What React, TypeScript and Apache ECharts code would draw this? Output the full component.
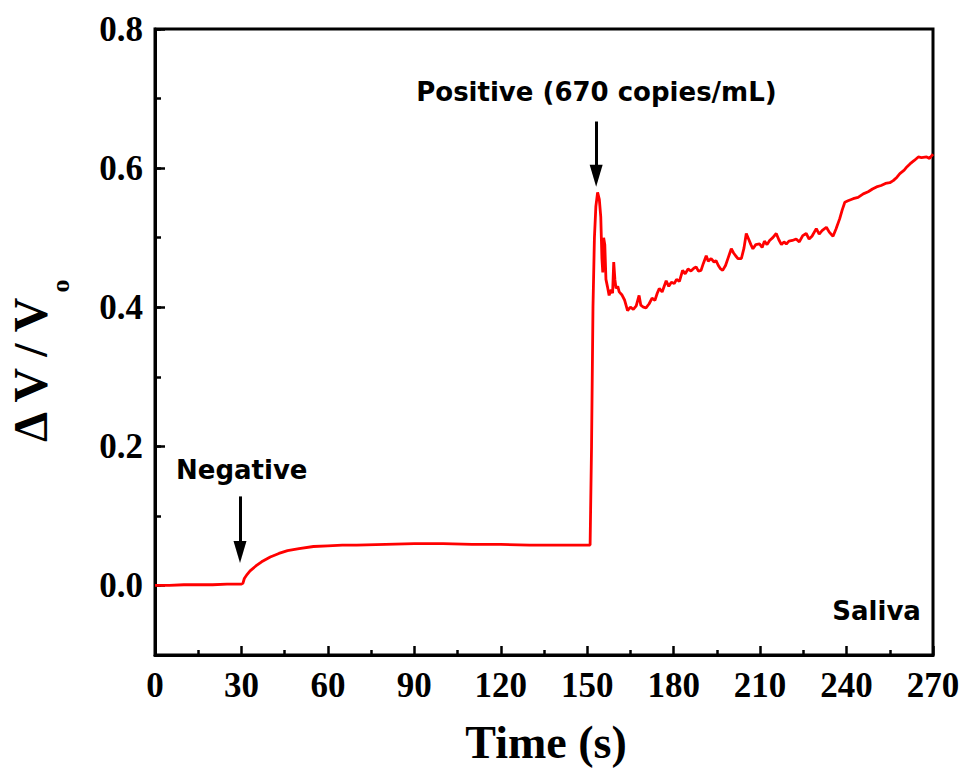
import React, { useEffect, useRef } from "react";
import * as echarts from "echarts";

const timeS = [
  0, 5, 10, 15, 20, 25, 30, 30.5,
  31, 32, 33, 35, 37, 40, 43, 46, 50, 55, 60, 65, 70, 80, 90, 100, 110, 120, 130, 140, 150, 151,
  151.5, 152, 152.5, 153, 153.6, 154.2, 154.7, 155.1, 155.4, 155.7, 156.1, 156.5, 157, 157.6, 158.3, 158.8,
  159.2, 159.6, 160, 160.6, 161.1, 162, 163, 164, 165, 166, 167, 168, 168.6, 169.5, 170.4, 171.5, 172.5,
  173.5, 174.3, 175, 176, 177.4, 178.3, 179.2, 180.2, 181, 182, 183.1, 184, 185, 186, 187, 187.8, 188.6,
  189.5, 190.3, 191.3, 192, 193, 194, 194.7, 195.5, 196.3, 197, 198, 199, 200, 200.8, 201.5, 202.3, 203.5,
  204.4, 205.2, 206, 206.8, 207.5, 208.5, 209.8, 210.7, 211.5, 212.4, 213.3, 214.4, 215.6, 216.5, 217.4,
  218.3, 219.1, 220, 221.2, 222.5, 223.6, 224.8, 226, 227, 228, 229.5, 230.5, 231.5, 233, 234, 235.3,
  236.3, 237.6, 238.5, 239.4, 240.5, 242.3, 244, 245.8, 247.5, 249, 250.4, 252, 253.5, 255, 256.2, 257.5,
  258.5, 260, 261, 262, 263.5, 264.9, 266, 267.8, 268.8, 270,
];

const deltaV = [
  0.0, 0.0, 0.001, 0.001, 0.001, 0.002, 0.002, 0.003,
  0.01, 0.016, 0.021, 0.028, 0.034, 0.041, 0.046, 0.05, 0.053, 0.056, 0.057, 0.058, 0.058, 0.059, 0.06, 0.06, 0.059, 0.059, 0.058, 0.058, 0.058, 0.058,
  0.2, 0.4, 0.5, 0.545, 0.565, 0.555, 0.53, 0.47, 0.45, 0.5, 0.49, 0.44, 0.43, 0.417, 0.425, 0.42,
  0.465, 0.44, 0.427, 0.43, 0.422, 0.418, 0.41, 0.395, 0.4, 0.397, 0.402, 0.417, 0.403, 0.4, 0.399, 0.405, 0.413,
  0.41, 0.42, 0.427, 0.422, 0.438, 0.43, 0.436, 0.434, 0.44, 0.437, 0.453, 0.448, 0.455, 0.452, 0.456, 0.458, 0.452,
  0.453, 0.463, 0.474, 0.466, 0.47, 0.465, 0.467, 0.46, 0.455, 0.453, 0.46, 0.472, 0.484, 0.478, 0.474, 0.47, 0.47,
  0.485, 0.506, 0.498, 0.49, 0.484, 0.49, 0.491, 0.486, 0.495, 0.49, 0.496, 0.5, 0.506, 0.497, 0.49,
  0.494, 0.491, 0.495, 0.496, 0.498, 0.494, 0.503, 0.506, 0.498, 0.502, 0.513, 0.505, 0.51, 0.515, 0.508, 0.502,
  0.512, 0.527, 0.54, 0.551, 0.553, 0.556, 0.558, 0.563, 0.566, 0.57, 0.573, 0.575, 0.578, 0.579, 0.582, 0.587,
  0.592, 0.597, 0.602, 0.606, 0.611, 0.616, 0.615, 0.616, 0.614, 0.62,
];

const xTicks = [0, 30, 60, 90, 120, 150, 180, 210, 240, 270];
const yMajorTicks = [0, 0.2, 0.4, 0.6, 0.8];

const negativeArrow = { t: 29.5, from: 0.128, to: 0.048 };
const positiveArrow = { t: 153.1, from: 0.667, to: 0.589 };
const negativeLabel = { text: "Negative", t: 30.1, v: 0.166 };
const positiveLabel = { text: "Positive (670 copies/mL)", t: 153.2, v: 0.709 };
const salivaLabel = { text: "Saliva", t: 265.8, v: -0.037 };

const serif = "'Liberation Serif', 'Times New Roman', serif";
const sans = "'DejaVu Sans', 'Noto Sans', sans-serif";

export default function App() {
  const ref = useRef<HTMLDivElement>(null);
  useEffect(() => {
    document.body.style.margin = "0";
    if (!ref.current) return;
    const chart = echarts.init(ref.current, undefined, { renderer: "svg" });
    const data = timeS.map((t, i) => [t, deltaV[i]]);
    const arrowLine = (a: { t: number; from: number; to: number }) => [
      { coord: [a.t, a.from] },
      { coord: [a.t, a.to] },
    ];
    chart.setOption({
      animation: false,
      backgroundColor: "#ffffff",
      grid: {
        left: 155,
        right: 32,
        top: 29,
        bottom: 114,
        show: true,
        borderColor: "#000",
        borderWidth: 3,
      },
      xAxis: {
        type: "value",
        min: 0,
        max: 270,
        interval: 30,
        axisLine: { show: true, onZero: false, lineStyle: { color: "#000", width: 3 } },
        axisTick: { show: true, inside: true, length: 9, lineStyle: { color: "#000", width: 2.5 } },
        minorTick: { show: true, splitNumber: 2, length: 5, lineStyle: { color: "#000", width: 2.5 } },
        splitLine: { show: false },
        axisLabel: {
          margin: 13,
          fontFamily: serif,
          fontWeight: "bold",
          fontSize: 35,
          color: "#000",
          customValues: xTicks,
        },
      },
      yAxis: [
        {
          type: "value",
          min: -0.1,
          max: 0.8,
          axisLine: { show: true, onZero: false, lineStyle: { color: "#000", width: 3 } },
          axisTick: {
            show: true,
            inside: true,
            length: 10,
            customValues: yMajorTicks,
            lineStyle: { color: "#000", width: 2.5 },
          },
          splitLine: { show: false },
          axisLabel: {
            margin: 12,
            fontFamily: serif,
            fontWeight: "bold",
            fontSize: 35,
            color: "#000",
            customValues: yMajorTicks,
            formatter: (v: number) => v.toFixed(1),
          },
        },
        {
          type: "value",
          min: -0.1,
          max: 0.8,
          interval: 0.1,
          position: "left",
          axisLine: { show: false },
          axisTick: { show: true, inside: true, length: 6, lineStyle: { color: "#000", width: 2.5 } },
          axisLabel: { show: false },
          splitLine: { show: false },
        },
      ],
      series: [
        {
          type: "line",
          data,
          showSymbol: false,
          symbol: "none",
          lineStyle: { color: "#ff0000", width: 2.8 },
          markLine: {
            silent: true,
            symbol: ["none", "triangle"],
            symbolSize: [13, 22],
            label: { show: false },
            lineStyle: { color: "#000", width: 3, type: "solid" },
            data: [arrowLine(negativeArrow), arrowLine(positiveArrow)],
          },
        },
      ],
    });

    const px = (t: number, v: number) => chart.convertToPixel({ gridIndex: 0 }, [t, v]) as number[];
    const pn = px(negativeLabel.t, negativeLabel.v);
    const pp = px(positiveLabel.t, positiveLabel.v);
    const ps = px(salivaLabel.t, salivaLabel.v);
    const textStyle = { fontFamily: sans, fontWeight: "bold", fontSize: 26, fill: "#000" };
    chart.setOption({
      graphic: [
        {
          type: "text",
          x: pn[0],
          y: pn[1],
          style: { ...textStyle, text: negativeLabel.text, align: "center", verticalAlign: "middle" },
        },
        {
          type: "text",
          x: pp[0],
          y: pp[1],
          style: { ...textStyle, text: positiveLabel.text, align: "center", verticalAlign: "middle" },
        },
        {
          type: "text",
          x: ps[0],
          y: ps[1],
          style: { ...textStyle, text: salivaLabel.text, align: "right", verticalAlign: "middle" },
        },
        {
          type: "text",
          x: 30,
          y: 442,
          rotation: Math.PI / 2,
          style: {
            text: "Δ V / V",
            fontFamily: serif,
            fontWeight: "bold",
            fontSize: 48,
            fill: "#000",
            align: "left",
            verticalAlign: "middle",
          },
        },
        {
          type: "text",
          x: 60,
          y: 286,
          rotation: Math.PI / 2,
          style: {
            text: "o",
            fontFamily: serif,
            fontWeight: "bold",
            fontSize: 26,
            fill: "#000",
            align: "center",
            verticalAlign: "middle",
          },
        },
        {
          type: "text",
          x: 546,
          y: 742,
          style: {
            text: "Time (s)",
            fontFamily: serif,
            fontWeight: "bold",
            fontSize: 46,
            fill: "#000",
            align: "center",
            verticalAlign: "middle",
          },
        },
      ],
    });
    return () => chart.dispose();
  }, []);
  return <div ref={ref} style={{ width: 965, height: 769 }} />;
}
